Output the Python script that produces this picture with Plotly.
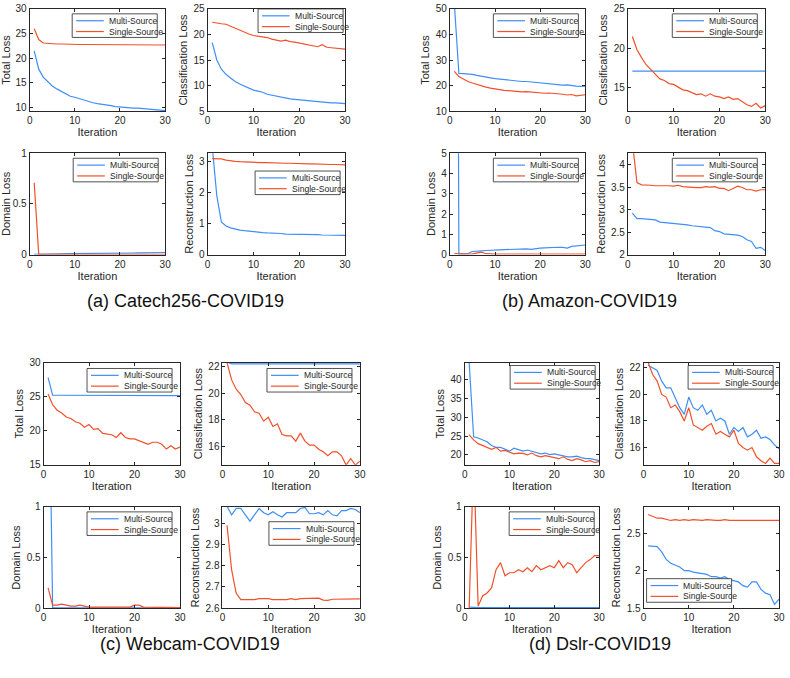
import plotly.graph_objects as go

W, H = 790, 678
iters = list(range(1, 31))

# ---------------- (a) Catech256-COVID19 ----------------
a_total_multi = [21.5, 17.8, 16.2, 15.2, 14.4, 13.8, 13.3, 12.8, 12.3, 12.1, 11.8, 11.6, 11.2, 11.0, 10.8,
                 10.7, 10.5, 10.4, 10.2, 10.1, 10.1, 10.0, 9.9, 9.9, 9.8, 9.8, 9.6, 9.5, 9.5, 9.4]
a_total_single = [26.0, 23.8, 23.1, 23.0, 22.95, 22.9, 22.9, 22.85, 22.85, 22.8, 22.8, 22.8, 22.8, 22.78, 22.77,
                  22.75, 22.75, 22.75, 22.73, 22.72, 22.72, 22.72, 22.7, 22.7, 22.7, 22.7, 22.7, 22.7, 22.7, 22.7]
a_class_multi = [18.4, 15.0, 13.2, 12.2, 11.5, 10.8, 10.3, 9.9, 9.4, 9.1, 8.9, 8.7, 8.3, 8.1, 7.9,
                 7.7, 7.6, 7.4, 7.3, 7.2, 7.1, 7.0, 7.0, 6.9, 6.8, 6.7, 6.6, 6.6, 6.5, 6.45]
a_class_single = [22.4, 22.2, 22.1, 22.0, 21.6, 21.2, 20.8, 20.4, 20.1, 19.8, 19.7, 19.5, 19.4, 19.1, 18.9,
                  18.7, 18.9, 18.6, 18.5, 18.3, 18.1, 17.9, 17.8, 17.6, 18.0, 17.5, 17.4, 17.35, 17.2, 17.15]
a_domain_multi = [0.002, 0.004, 0.005, 0.006, 0.006, 0.007, 0.007, 0.008, 0.008, 0.009, 0.009, 0.01, 0.01, 0.011, 0.011,
                  0.012, 0.012, 0.013, 0.013, 0.014, 0.014, 0.015, 0.015, 0.016, 0.016, 0.017, 0.017, 0.018, 0.019, 0.02]
a_domain_single = [0.71, 0.002, 0.001, 0.001, 0.001, 0.001, 0.001, 0.001, 0.001, 0.001, 0.001, 0.001, 0.001, 0.001, 0.001,
                   0.001, 0.001, 0.001, 0.001, 0.001, 0.001, 0.001, 0.001, 0.001, 0.001, 0.001, 0.001, 0.001, 0.001, 0.001]
a_recon_multi = [3.5, 1.9, 1.05, 0.92, 0.86, 0.82, 0.79, 0.77, 0.75, 0.73, 0.72, 0.71, 0.70, 0.70, 0.70,
                 0.68, 0.66, 0.66, 0.65, 0.65, 0.65, 0.64, 0.64, 0.64, 0.63, 0.63, 0.63, 0.62, 0.62, 0.62]
a_recon_single = [3.1, 3.1, 3.09, 3.05, 3.02, 3.01, 3.0, 2.99, 2.99, 2.99, 2.98, 2.97, 2.97, 2.96, 2.96,
                  2.95, 2.95, 2.95, 2.94, 2.94, 2.93, 2.93, 2.93, 2.92, 2.92, 2.92, 2.91, 2.91, 2.9, 2.9]

# ---------------- (b) Amazon-COVID19 ----------------
b_total_multi = [52.0, 24.8, 24.7, 24.6, 24.4, 24.0, 23.6, 23.2, 23.0, 22.7, 22.5, 22.3, 22.2, 22.0, 21.8,
                 21.6, 21.6, 21.4, 21.2, 21.0, 20.9, 20.7, 20.5, 20.4, 20.2, 20.3, 20.0, 19.8, 19.7, 19.8]
b_total_single = [25.6, 23.5, 22.6, 21.6, 21.0, 20.4, 19.8, 19.4, 19.0, 18.7, 18.3, 18.1, 18.0, 17.8, 17.6,
                  17.5, 17.6, 17.4, 17.2, 17.1, 17.0, 17.1, 17.0, 16.9, 16.6, 16.3, 16.5, 16.0, 16.3, 16.4]
b_class_multi = [17.1] * 30
b_class_single = [21.5, 19.8, 18.8, 17.9, 17.3, 16.7, 16.1, 15.9, 15.5, 15.4, 15.0, 14.7, 14.6, 14.3, 14.1,
                  14.2, 13.9, 14.2, 13.9, 13.8, 13.6, 13.8, 13.5, 13.6, 13.2, 12.8, 12.6, 13.0, 12.4, 12.7]
b_domain_multi = [60.0, 0.02, 0.02, 0.05, 0.15, 0.18, 0.18, 0.2, 0.22, 0.22, 0.23, 0.24, 0.25, 0.27, 0.27,
                  0.28, 0.28, 0.25, 0.3, 0.32, 0.33, 0.35, 0.37, 0.36, 0.35, 0.32, 0.40, 0.42, 0.42, 0.47]
b_domain_single = [0.05, 0.03, 0.02, 0.02, 0.03, 0.06, 0.12, 0.04, 0.02, 0.02, 0.02, 0.02, 0.02, 0.02, 0.02,
                   0.02, 0.02, 0.02, 0.02, 0.02, 0.02, 0.02, 0.02, 0.02, 0.02, 0.02, 0.02, 0.02, 0.02, 0.02]
b_recon_multi = [2.92, 2.8, 2.8, 2.79, 2.78, 2.77, 2.72, 2.71, 2.70, 2.70, 2.68, 2.67, 2.66, 2.64, 2.63,
                 2.62, 2.62, 2.60, 2.53, 2.51, 2.46, 2.45, 2.45, 2.43, 2.40, 2.33, 2.29, 2.14, 2.16, 2.09]
b_recon_single = [4.5, 3.6, 3.55, 3.55, 3.54, 3.53, 3.53, 3.54, 3.53, 3.52, 3.54, 3.51, 3.50, 3.49, 3.49,
                  3.49, 3.51, 3.50, 3.51, 3.47, 3.47, 3.42, 3.47, 3.52, 3.49, 3.44, 3.44, 3.41, 3.44, 3.44]

# ---------------- (c) Webcam-COVID19 ----------------
c_total_multi = [27.8, 25.2, 25.2, 25.2, 25.1, 25.1, 25.1, 25.1, 25.15, 25.15, 25.15, 25.15, 25.15, 25.15, 25.15,
                 25.15, 25.15, 25.15, 25.15, 25.15, 25.15, 25.15, 25.15, 25.15, 25.15, 25.15, 25.15, 25.15, 25.15, 25.15]
c_total_single = [25.4, 23.8, 23.0, 22.6, 22.0, 21.8, 21.3, 21.1, 20.5, 20.9, 20.2, 20.3, 19.6, 19.5, 19.4,
                  19.0, 19.7, 19.0, 18.8, 18.8, 18.5, 18.2, 18.0, 18.3, 18.3, 18.0, 17.3, 17.8, 17.3, 17.6]
c_class_multi = [22.35, 22.2, 22.2, 22.2, 22.2, 22.2, 22.2, 22.2, 22.2, 22.2, 22.2, 22.2, 22.2, 22.2, 22.2,
                 22.2, 22.2, 22.2, 22.2, 22.2, 22.2, 22.2, 22.2, 22.2, 22.2, 22.2, 22.2, 22.2, 22.2, 22.2]
c_class_single = [22.3, 21.0, 20.3, 19.9, 19.3, 19.1, 18.6, 18.5, 17.9, 18.2, 17.5, 17.7, 16.9, 16.8, 16.8,
                  16.4, 17.0, 16.4, 16.1, 16.1, 15.8, 15.6, 15.3, 15.6, 15.6, 15.3, 14.6, 15.1, 14.6, 14.9]
c_domain_multi = [3.0, 0.002, 0.002, 0.002, 0.002, 0.002, 0.002, 0.002, 0.002, 0.002, 0.002, 0.002, 0.002, 0.002, 0.002,
                  0.002, 0.002, 0.002, 0.002, 0.002, 0.002, 0.002, 0.002, 0.002, 0.002, 0.002, 0.002, 0.002, 0.002, 0.002]
c_domain_single = [0.2, 0.03, 0.03, 0.04, 0.03, 0.02, 0.02, 0.03, 0.02, 0.01, 0.01, 0.01, 0.01, 0.01, 0.01,
                   0.01, 0.01, 0.01, 0.01, 0.03, 0.03, 0.01, 0.01, 0.01, 0.01, 0.01, 0.01, 0.01, 0.01, 0.005]
c_recon_multi = [3.08, 3.04, 3.07, 3.07, 3.04, 3.01, 3.04, 3.07, 3.05, 3.04, 3.055, 3.04, 3.03, 3.05, 3.05,
                 3.05, 3.07, 3.075, 3.045, 3.045, 3.05, 3.04, 3.06, 3.04, 3.035, 3.06, 3.06, 3.07, 3.065, 3.05]
c_recon_single = [2.99, 2.78, 2.67, 2.64, 2.64, 2.64, 2.64, 2.645, 2.645, 2.645, 2.64, 2.64, 2.64, 2.64, 2.645,
                  2.64, 2.645, 2.645, 2.645, 2.645, 2.647, 2.638, 2.637, 2.642, 2.642, 2.642, 2.643, 2.643, 2.644, 2.644]

# ---------------- (d) Dslr-COVID19 ----------------
d_total_multi = [44.5, 24.8, 24.5, 24.0, 23.5, 22.5, 22.0, 22.0, 21.5, 21.0, 21.8, 21.3, 21.0, 21.3, 21.0,
                 20.6, 20.3, 20.5, 20.1, 20.3, 20.0, 19.8, 19.5, 19.5, 19.7, 19.3, 19.0, 19.0, 18.8, 18.5]
d_total_single = [25.3, 24.0, 23.0, 22.5, 22.0, 21.5, 22.0, 21.0, 21.2, 20.8, 20.3, 20.5, 20.4, 20.0, 20.5,
                  19.8, 19.5, 19.8, 19.5, 19.3, 19.0, 19.5, 18.8, 18.5, 19.0, 18.7, 18.2, 18.5, 18.0, 18.2]
d_class_multi = [22.2, 22.0, 21.8, 21.0, 20.5, 20.5, 19.8, 19.0, 18.5, 19.8, 19.0, 18.8, 19.2, 18.5, 18.8,
                 18.0, 18.2, 18.0, 17.0, 17.5, 17.2, 17.5, 16.8, 17.0, 17.3, 16.7, 16.8, 16.6, 16.2, 15.9]
d_class_single = [22.4, 21.5, 21.0, 20.0, 19.8, 19.0, 19.2, 18.7, 18.0, 19.0, 17.7, 17.5, 17.3, 17.6, 17.8,
                  17.0, 17.2, 17.0, 16.8, 17.3, 16.3, 16.0, 15.8, 16.0, 15.3, 15.0, 14.8, 15.2, 14.8, 14.8]
d_domain_multi = [0.01, 0.005, 0.005, 0.005, 0.005, 0.005, 0.005, 0.005, 0.005, 0.005, 0.005, 0.005, 0.005, 0.005, 0.005,
                  0.005, 0.005, 0.005, 0.005, 0.005, 0.005, 0.005, 0.005, 0.005, 0.005, 0.005, 0.005, 0.005, 0.005, 0.005]
d_domain_single = [0.0, 1.5, 0.02, 0.12, 0.15, 0.2, 0.38, 0.45, 0.32, 0.35, 0.35, 0.38, 0.36, 0.40, 0.36,
                   0.42, 0.38, 0.40, 0.42, 0.40, 0.47, 0.40, 0.45, 0.43, 0.35, 0.40, 0.45, 0.48, 0.52, 0.52]
d_recon_multi = [2.33, 2.32, 2.32, 2.25, 2.15, 2.1, 2.08, 2.05, 2.0, 2.0, 1.98, 1.97, 1.95, 1.95, 1.92,
                 1.92, 1.9, 1.92, 1.88, 1.86, 1.85, 1.8, 1.78, 1.85, 1.85, 1.75, 1.7, 1.68, 1.55, 1.62]
d_recon_single = [2.75, 2.72, 2.7, 2.7, 2.68, 2.67, 2.68, 2.67, 2.68, 2.67, 2.68, 2.67, 2.67, 2.68, 2.67,
                  2.67, 2.67, 2.68, 2.67, 2.67, 2.68, 2.67, 2.67, 2.68, 2.67, 2.67, 2.67, 2.68, 2.67, 2.67]

series_names = ["Multi-Source", "Single-Source"]
x_ticks = [0, 10, 20, 30]
captions = ["(a) Catech256-COVID19", "(b) Amazon-COVID19", "(c) Webcam-COVID19", "(d) Dslr-COVID19"]

BLUE = "#3f8ef7"
RED = "#f2502a"
AX = "#262626"
FONT = "Liberation Sans, Arial, Helvetica, sans-serif"

# panel: (multi, single, ylabel, yrange, yticks, box [x0,x1,y0,y1] px, legend top-left px)
panels = [
    (a_total_multi, a_total_single, "Total Loss", [9.3, 30], [10, 15, 20, 25, 30], (27, 164, 3, 107), (70, 8)),
    (a_class_multi, a_class_single, "Classification Loss", [5, 25], [5, 10, 15, 20, 25], (207, 346, 3, 107), (258, 3)),
    (a_domain_multi, a_domain_single, "Domain Loss", [0, 1], [0, 0.5, 1], (27, 164, 150, 253), (71, 155)),
    (a_recon_multi, a_recon_single, "Reconstruction Loss", [0, 3.27], [0, 1, 2, 3], (207, 346, 150, 253), (255, 168)),
    (b_total_multi, b_total_single, "Total Loss", [10, 50], [10, 20, 30, 40, 50], (452, 589, 3, 107), (496, 8)),
    (b_class_multi, b_class_single, "Classification Loss", [12, 25], [15, 20, 25], (632, 771, 3, 107), (677, 8)),
    (b_domain_multi, b_domain_single, "Domain Loss", [0, 5], [0, 1, 2, 3, 4, 5], (452, 589, 150, 253), (496, 155)),
    (b_recon_multi, b_recon_single, "Reconstruction Loss", [2, 4.25], [2, 2.5, 3, 3.5, 4], (632, 771, 150, 253), (677, 155)),
    (c_total_multi, c_total_single, "Total Loss", [15, 30], [15, 20, 25, 30], (41, 179, 363, 467), (85, 369)),
    (c_class_multi, c_class_single, "Classification Loss", [14.63, 22.3], [16, 18, 20, 22], (222, 361, 363, 467), (267, 369)),
    (c_domain_multi, c_domain_single, "Domain Loss", [0, 1], [0, 0.5, 1], (41, 179, 510, 613), (85, 515)),
    (c_recon_multi, c_recon_single, "Reconstruction Loss", [2.6, 3.077], [2.6, 2.7, 2.8, 2.9, 3.0], (222, 361, 510, 613), (269, 525)),
    (d_total_multi, d_total_single, "Total Loss", [17.4, 44.5], [20, 25, 30, 35, 40], (467, 603, 363, 467), (513, 366)),
    (d_class_multi, d_class_single, "Classification Loss", [14.7, 22.4], [16, 18, 20, 22], (648, 785, 363, 467), (693, 366)),
    (d_domain_multi, d_domain_single, "Domain Loss", [0, 1], [0, 0.5, 1], (467, 603, 510, 613), (512, 515)),
    (d_recon_multi, d_recon_single, "Reconstruction Loss", [1.5, 2.85], [1.5, 2, 2.5], (648, 785, 510, 613), (651, 583)),
]
caption_pos = [(185, 300), (593, 300), (189, 650), (604, 650)]


def fx(px):
    return px / W


def fy(py):
    return 1 - py / H


fig = go.Figure()
shapes = []
annotations = []
layout = {}

for i, (multi, single, ylabel, yr, yt, box, leg) in enumerate(panels, start=1):
    xa, ya = f"x{i}", f"y{i}"
    for vals, name, col in ((multi, series_names[0], BLUE), (single, series_names[1], RED)):
        fig.add_trace(go.Scatter(x=iters, y=vals, mode="lines", name=name,
                                 line=dict(color=col, width=1.2), showlegend=False,
                                 xaxis=xa, yaxis=ya))
    x0, x1, y0, y1 = box
    common = dict(showline=True, linecolor=AX, linewidth=1, mirror="ticks", ticks="inside",
                  ticklen=3, tickcolor=AX, showgrid=False, zeroline=False,
                  tickfont=dict(family=FONT, size=10, color=AX))
    layout[f"xaxis{i}"] = dict(domain=[fx(x0), fx(x1)], range=[0, 30], tickvals=x_ticks,
                               anchor=ya, title=dict(text="Iteration", standoff=0,
                                                     font=dict(family=FONT, size=11, color=AX)),
                               **common)
    layout[f"yaxis{i}"] = dict(domain=[fy(y1), fy(y0)], range=yr, tickvals=yt,
                               anchor=xa, title=dict(text=ylabel, standoff=3,
                                                     font=dict(family=FONT, size=11, color=AX)),
                               **common)
    # legend box (drawn as shapes + text)
    lx, ly = leg
    shapes.append(dict(type="rect", xref="paper", yref="paper",
                       x0=fx(lx), x1=fx(lx + 86), y0=fy(ly + 24), y1=fy(ly),
                       line=dict(color=AX, width=0.8), fillcolor="white", layer="above"))
    for k, (name, col) in enumerate(((series_names[0], BLUE), (series_names[1], RED))):
        yy = ly + 7 + 11 * k
        shapes.append(dict(type="line", xref="paper", yref="paper",
                           x0=fx(lx + 4), x1=fx(lx + 32), y0=fy(yy), y1=fy(yy),
                           line=dict(color=col, width=1.2), layer="above"))
        annotations.append(dict(text=name, xref="paper", yref="paper", x=fx(lx + 35), y=fy(yy),
                                xanchor="left", yanchor="middle", showarrow=False,
                                font=dict(family=FONT, size=8.6, color=AX)))

for cap, (cx, cy) in zip(captions, caption_pos):
    annotations.append(dict(text=cap, xref="paper", yref="paper", x=fx(cx), y=fy(cy),
                            xanchor="center", yanchor="middle", showarrow=False,
                            font=dict(family=FONT, size=18, color="#111111")))

fig.update_layout(width=W, height=H, margin=dict(l=0, r=0, t=0, b=0),
                  paper_bgcolor="white", plot_bgcolor="white",
                  shapes=shapes, annotations=annotations, **layout)

fig.write_html("out.html", config={"displayModeBar": False},
               post_script="document.body.style.margin='0px';document.body.style.overflow='hidden';")
